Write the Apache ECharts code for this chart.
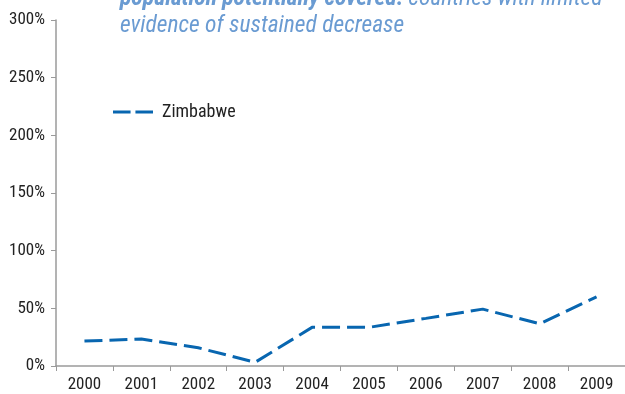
<!DOCTYPE html>
<html><head><meta charset="utf-8">
<script src="https://cdn.jsdelivr.net/npm/echarts@6/dist/echarts.min.js"></script>
<style>html,body{margin:0;padding:0;background:#fff}#c{width:625px;height:394px}</style>
</head><body><div id="c"></div>
<script>
const years = ['2000','2001','2002','2003','2004','2005','2006','2007','2008','2009'];
const zimbabwe = [21.6, 23.4, 15.8, 3.2, 33.5, 33.5, 41.3, 49.3, 36.6, 60];
const seriesName = 'Zimbabwe';
const yTicks = [0, 50, 100, 150, 200, 250, 300];
const titleBold = 'population potentially covered:';
const titleRest = ' countries with limited';
const titleLine2 = 'evidence of sustained decrease';

const FONT = 'Roboto, sans-serif';
const W = 'normal condensed';
const chart = echarts.init(document.getElementById('c'), null, {renderer:'canvas'});
chart.setOption({
  animation:false,
  title:{
    left:120, top:-14, padding:0,
    text:'{b|'+titleBold+'}{n|'+titleRest+'}\n{n|'+titleLine2+'}',
    textStyle:{
      rich:{
        b:{fontFamily:FONT, fontSize:23.5, fontStyle:'italic', fontWeight:'bold condensed', color:'#6A9BD2', lineHeight:27},
        n:{fontFamily:FONT, fontSize:23.5, fontStyle:'italic', fontWeight:W, color:'#6A9BD2', lineHeight:27}
      }
    }
  },
  legend:{
    left:113, top:103, orient:'vertical', padding:0,
    itemWidth:40, itemHeight:10, itemGap:8,
    textStyle:{fontFamily:FONT, fontWeight:W, fontSize:18, color:'#222', padding:[0,0,0,4]},
    data:[{name:seriesName, icon:'path://M0,0L18,0L18,3L0,3Z M23,0L41,0L41,3L23,3Z'}]
  },
  grid:{left:56, top:20, width:572, height:346},
  xAxis:{
    type:'category', data:years, boundaryGap:true,
    axisLine:{lineStyle:{color:'#9a9a9a', width:1.5}},
    axisTick:{show:true, length:5, alignWithLabel:false, lineStyle:{color:'#9a9a9a'}},
    axisLabel:{fontFamily:FONT, fontWeight:W, fontSize:17, color:'#222', margin:10}
  },
  yAxis:{
    type:'value', min:0, max:300, interval:50,
    axisLine:{show:true, lineStyle:{color:'#9a9a9a', width:1.5}},
    axisTick:{show:true, length:5, lineStyle:{color:'#9a9a9a'}},
    splitLine:{show:false},
    axisLabel:{fontFamily:FONT, fontWeight:W, fontSize:17, color:'#222', margin:11,
      formatter:v=> yTicks.includes(v) ? v+'%' : ''}
  },
  series:[{
    name:seriesName, type:'line', data:zimbabwe,
    symbol:'none', smooth:false,
    itemStyle:{color:'#0866B0'},
    lineStyle:{color:'#0866B0', width:3, type:[18,7]}
  }]
});
</script></body></html>
